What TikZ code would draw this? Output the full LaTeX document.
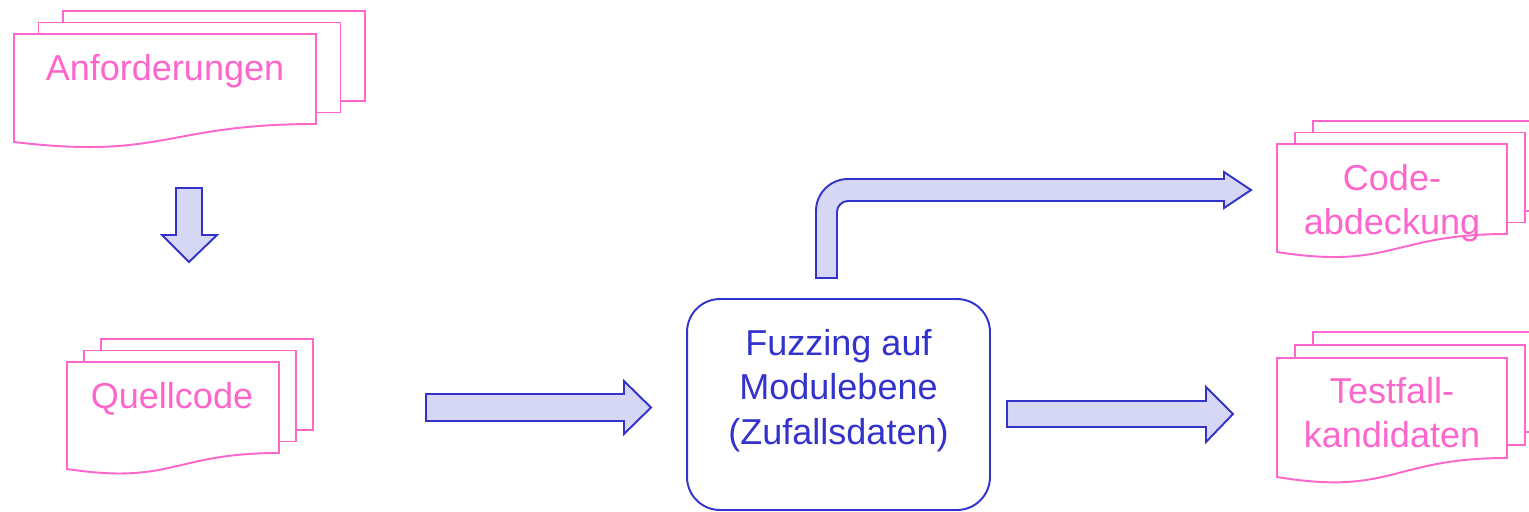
\documentclass[tikz,border=0pt]{standalone}
\usepackage{fontspec}
\setmainfont{Liberation Sans}
\definecolor{docpink}{HTML}{FF66CC}
\definecolor{flowblue}{HTML}{3333CC}
\definecolor{arrowfill}{HTML}{D6D7F4}

% Stacked document symbol: x0, y0 (top of front sheet), width,
% right height, left height, sheet offset dx, sheet offset dy
\newcommand\multidoc[7]{%
  \draw[sheet] ({#1+2*#6},{#2-2*#7}) rectangle ++(#3,#4);
  \draw[sheet] ({#1+#6},{#2-#7}) rectangle ++(#3,#4);
  \draw[sheet] (#1,{#2+#5}) -- (#1,#2) -- ({#1+#3},#2) -- ({#1+#3},{#2+#4})
     .. controls ({#1+#3/2},{#2+#4}) and ({#1+#3/2},{#2+#4+2*(#5-#4)}) .. (#1,{#2+#5}) -- cycle;
}

\begin{document}
\begin{tikzpicture}[x=0.02cm,y=-0.02cm,
  sheet/.style={draw=docpink, line width=1.1pt, fill=white, line join=miter},
  doclabel/.style={text=docpink, font=\fontsize{20.5}{25.5}\selectfont, inner sep=0pt, anchor=base},
  blockarrow/.style={draw=flowblue, fill=arrowfill, line width=1.1pt, line join=miter},
  fuzzbox/.style={draw=flowblue, line width=1.1pt, rounded corners=0.66cm,
    minimum width=6.06cm, minimum height=4.22cm, inner sep=0pt},
  boxlabel/.style={text=flowblue, font=\fontsize{20.5}{25.5}\selectfont, inner sep=0pt, anchor=base}]

\useasboundingbox (0,0) rectangle (1529,511);
\clip (0,0) rectangle (1529,511);

% documents
\multidoc{14}{34}{302}{90}{108}{24.5}{11.5}
\node[doclabel] (anf) at (165,80) {Anforderungen};

\multidoc{67}{362}{212}{91}{107}{17}{11.5}
\node[doclabel] (quell) at (172,408) {Quellcode};

\multidoc{1277}{144}{230}{90}{108}{18}{11.5}
\node[doclabel] (cov) at (1392,190) {\begin{tabular}[t]{@{}c@{}}Code-\\abdeckung\end{tabular}};

\multidoc{1277}{358}{230}{100}{119}{18}{13}
\node[doclabel] (cand) at (1392,403) {\begin{tabular}[t]{@{}c@{}}Testfall-\\kandidaten\end{tabular}};

% fuzzing stage
\node[fuzzbox] (fuzz) at (838.5,404.5) {};
\node[boxlabel] (fuzztext) at (838.5,355)
  {\begin{tabular}[t]{@{}c@{}}Fuzzing auf\\Modulebene\\(Zufallsdaten)\end{tabular}};

% block arrows
\draw[blockarrow] (176,188) -- (202,188) -- (202,235) -- (217,235) -- (189,262)
  -- (162,235) -- (176,235) -- cycle;

\draw[blockarrow] (426,394) -- (624,394) -- (624,381) -- (651,407.5) -- (624,434)
  -- (624,421) -- (426,421) -- cycle;

\draw[blockarrow] (1007,401) -- (1206,401) -- (1206,387) -- (1233,414) -- (1206,442)
  -- (1206,427) -- (1007,427) -- cycle;

\draw[blockarrow] (816,278) -- (816,211)
  .. controls (816,193.3) and (830.3,179) .. (848,179)
  -- (1224,179) -- (1224,172) -- (1251,190) -- (1224,208) -- (1224,201) -- (848,201)
  .. controls (841.9,201) and (837,205.9) .. (837,212)
  -- (837,278) -- cycle;
\end{tikzpicture}
\end{document}
